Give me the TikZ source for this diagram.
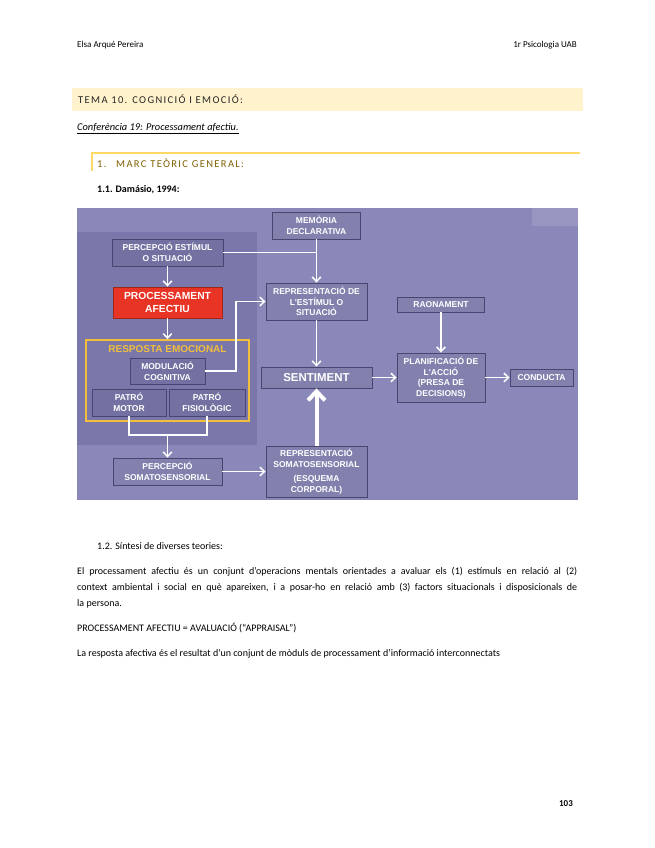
\documentclass[tikz,border=0pt]{standalone}
\usepackage{fontspec}
\setmainfont{Carlito}
\newfontfamily\diagfont{Liberation Sans}
\newfontfamily\spacedfont[LetterSpace=13]{Carlito}
\usepackage{tikz}
\usetikzlibrary{positioning,arrows.meta}
\usepackage{xcolor}
\definecolor{slidebg}{RGB}{138,136,184}
\definecolor{panelbg}{RGB}{122,120,170}
\definecolor{boxedge}{RGB}{72,70,112}
\definecolor{afectred}{RGB}{232,52,36}
\definecolor{emoyellow}{RGB}{242,190,60}
\definecolor{bandyellow}{RGB}{255,242,204}
\definecolor{ruleyellow}{RGB}{255,217,102}
\definecolor{headgold}{RGB}{127,96,0}

\tikzset{
  blk/.style={draw=boxedge,fill=black,fill opacity=0.05,text opacity=1,line width=0.9pt,text=white,align=center,inner sep=0pt,
    font=\diagfont\bfseries\fontsize{8.5}{10.6}\selectfont},
  flowarrow/.style={draw=white,line width=1.5pt,-{Straight Barb[length=4.5pt,width=8.5pt]}},
  bigarrow/.style={draw=white,line width=4pt,-{Straight Barb[length=9pt,width=17pt]}},
  joinline/.style={draw=white,line width=1.5pt},
  pagetext/.style={anchor=base west,inner sep=0pt,font=\fontsize{10}{12}\selectfont},
}

\begin{document}
\begin{tikzpicture}[x=1pt,y=-1pt]
\useasboundingbox[fill=white] (0,0) rectangle (655,848);

% page header
\node[pagetext,font=\fontsize{9}{11}\selectfont] (autora) at (77,48) {Elsa Arqué Pereira};
\node[pagetext,anchor=base east,font=\fontsize{9}{11}\selectfont] (curs) at (577,48) {1r Psicologia UAB};

\fill[bandyellow] (72,88) rectangle (583,111);
\node[pagetext,text=black!85,font=\spacedfont\fontsize{10.5}{12}\selectfont] (tema) at (78,103) {TEMA 10. COGNICIÓ I EMOCIÓ:};
\node[pagetext,font=\itshape\fontsize{10.4}{12}\selectfont] (conf) at (77,131) {\underline{Conferència 19: Processament afectiu.}};

\draw[ruleyellow,line width=1.5pt] (92,171) -- (92,153) -- (580,153);
\node[pagetext,text=headgold,font=\spacedfont\fontsize{10.5}{12}\selectfont] (numsec) at (97,167) {1.};
\node[pagetext,text=headgold,font=\spacedfont\fontsize{10.5}{12}\selectfont] (marc) at (116,167) {MARC TEÒRIC GENERAL:};
\node[pagetext,font=\bfseries\fontsize{10}{12}\selectfont] (damasio) at (97,192) {1.1. Damásio, 1994:};

% slide
\fill[slidebg] (77,208) rectangle (578,500);
\fill[white,opacity=0.12] (532,208) rectangle (578,226);
\fill[panelbg] (77,232) rectangle (257,445);

\node[blk,minimum width=111pt,minimum height=27pt] (estimul) at (167.5,252.5) {PERCEPCIÓ ESTÍMUL\\O SITUACIÓ};
\node[blk,draw=afectred!70!black,fill=afectred,fill opacity=1,minimum width=109pt,minimum height=31pt,
  font=\diagfont\bfseries\fontsize{10.3}{12.5}\selectfont] (afectiu) at (167.5,302.5) {PROCESSAMENT\\AFECTIU};
\node[draw=emoyellow,line width=1.6pt,minimum width=163pt,minimum height=81pt,inner sep=0pt] (resposta) at (167.5,380.5) {};
\node[text=emoyellow,font=\diagfont\bfseries\fontsize{10}{12}\selectfont,inner sep=0pt] (respostatitol) at (167.5,349) {RESPOSTA EMOCIONAL};
\node[blk,minimum width=75pt,minimum height=26pt] (modulacio) at (167.5,371) {MODULACIÓ\\COGNITIVA};
\node[blk,minimum width=74pt,minimum height=27pt] (motor) at (129,402.5) {PATRÓ\\MOTOR};
\node[blk,minimum width=76pt,minimum height=27pt] (fisiologic) at (207,402.5) {PATRÓ\\FISIOLÒGIC};
\node[blk,minimum width=109pt,minimum height=27pt] (percsoma) at (167.5,471.5) {PERCEPCIÓ\\SOMATOSENSORIAL};

\node[blk,minimum width=88pt,minimum height=27pt] (memoria) at (316.5,225.5) {MEMÒRIA\\DECLARATIVA};
\node[blk,minimum width=101pt,minimum height=37pt] (representacio) at (316.5,301.5) {REPRESENTACIÓ DE\\L'ESTÍMUL O\\SITUACIÓ};
\node[blk,minimum width=111pt,minimum height=21pt,
  font=\diagfont\bfseries\fontsize{11.5}{13}\selectfont] (sentiment) at (316.5,377.5) {SENTIMENT};
\node[blk,minimum width=101pt,minimum height=51pt] (reprsoma) at (316.5,471.5) {REPRESENTACIÓ\\SOMATOSENSORIAL\\[4pt](ESQUEMA\\CORPORAL)};

\node[blk,minimum width=87pt,minimum height=15pt] (raonament) at (441,304.5) {RAONAMENT};
\node[blk,minimum width=88pt,minimum height=49pt] (planificacio) at (441,377.5) {PLANIFICACIÓ DE\\L'ACCIÓ\\(PRESA DE\\DECISIONS)};
\node[blk,minimum width=63pt,minimum height=17pt] (conducta) at (541.5,377.5) {CONDUCTA};

\coordinate (bend) at (236,301.5);
\coordinate (somajoin) at (167.5,435);

\draw[flowarrow] (estimul) -- (afectiu);
\draw[flowarrow] (afectiu.south) -- (resposta.north -| afectiu.south);
\draw[joinline] (estimul.east) -- (estimul.east -| memoria.south);
\draw[flowarrow] (memoria) -- (representacio);
\draw[flowarrow] (modulacio.east) -| (bend) -- (representacio.west);
\draw[flowarrow] (representacio) -- (sentiment);
\draw[bigarrow] (reprsoma) -- (sentiment);
\draw[flowarrow] (sentiment) -- (planificacio);
\draw[flowarrow] (raonament) -- (planificacio);
\draw[flowarrow] (planificacio) -- (conducta);
\draw[joinline] (motor.south) -- (motor.south |- somajoin) -- (fisiologic.south |- somajoin) -- (fisiologic.south);
\draw[flowarrow] (somajoin) -- (percsoma);
\draw[flowarrow] (percsoma) -- (reprsoma);

% text below the slide
\node[pagetext] (sintesi) at (97,549) {1.2. Síntesi de diverses teories:};
\node[pagetext] (par1) at (77,574) {\makebox[500pt][s]{El processament afectiu és un conjunt d'operacions mentals orientades a avaluar els (1) estímuls en relació al (2)}};
\node[pagetext] (par2) at (77,590) {\makebox[500pt][s]{context ambiental i social en què apareixen, i a posar-ho en relació amb (3) factors situacionals i disposicionals de}};
\node[pagetext] (par3) at (77,606) {la persona.};
\node[pagetext] (appraisal) at (77,631) {PROCESSAMENT AFECTIU = AVALUACIÓ (“APPRAISAL”)};
\node[pagetext] (moduls) at (77,656) {La resposta afectiva és el resultat d'un conjunt de mòduls de processament d'informació interconnectats};
\node[pagetext,anchor=base,font=\bfseries\fontsize{9}{11}\selectfont] (pagina) at (566,806) {103};
\end{tikzpicture}
\end{document}
